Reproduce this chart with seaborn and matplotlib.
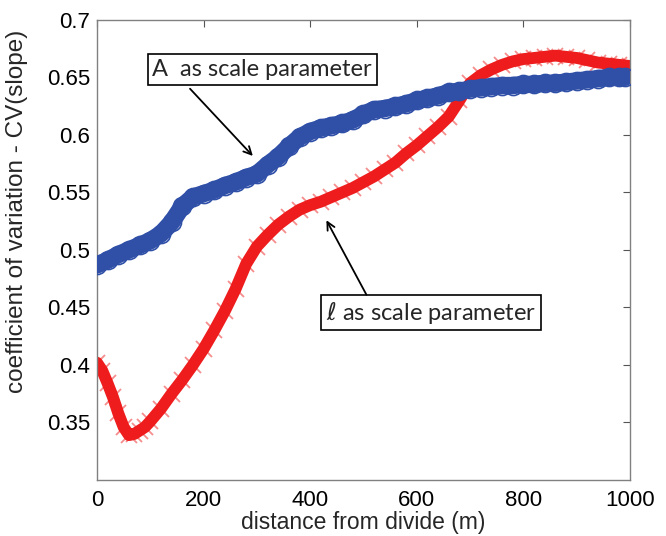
import numpy as np
import pandas as pd
import matplotlib
matplotlib.use("Agg")
import matplotlib.pyplot as plt
import seaborn as sns

# values
dist_A = [0, 20, 40, 60, 80, 100, 120, 140, 160, 180, 200, 220, 240, 260, 280,
          300, 320, 340, 360, 380, 400, 420, 440, 460, 480, 500, 520, 540, 560,
          580, 600, 620, 640, 660, 680, 700, 720, 740, 760, 780, 800, 820, 840,
          860, 880, 900, 920, 940, 960, 980, 990]
cv_A = [0.487, 0.491, 0.496, 0.500, 0.504, 0.508, 0.514, 0.524, 0.538, 0.546,
        0.549, 0.552, 0.556, 0.559, 0.563, 0.566, 0.574, 0.581, 0.590, 0.598,
        0.603, 0.606, 0.608, 0.610, 0.613, 0.618, 0.622, 0.623, 0.625, 0.627,
        0.630, 0.632, 0.634, 0.637, 0.638, 0.640, 0.641, 0.642, 0.643, 0.643,
        0.644, 0.644, 0.645, 0.645, 0.646, 0.647, 0.648, 0.649, 0.650, 0.650,
        0.650]

dist_l = [0, 10, 20, 30, 40, 50, 60, 70, 80, 90, 100, 120, 140, 160, 180, 200,
          220, 240, 260, 280, 300, 320, 340, 360, 380, 400, 420, 440, 460, 480,
          500, 520, 540, 560, 580, 600, 620, 640, 660, 680, 700, 720, 740, 760,
          780, 800, 820, 840, 860, 880, 900, 920, 940, 960, 980, 1000]
cv_l = [0.402, 0.395, 0.384, 0.372, 0.358, 0.346, 0.339, 0.340, 0.343, 0.346,
        0.351, 0.362, 0.375, 0.387, 0.400, 0.414, 0.430, 0.447, 0.466, 0.488,
        0.503, 0.513, 0.522, 0.529, 0.535, 0.539, 0.542, 0.546, 0.550, 0.554,
        0.559, 0.564, 0.570, 0.576, 0.584, 0.591, 0.599, 0.607, 0.616, 0.630,
        0.645, 0.652, 0.657, 0.661, 0.664, 0.666, 0.667, 0.668, 0.669, 0.668,
        0.667, 0.665, 0.663, 0.662, 0.661, 0.660]

x_ticks = [0, 200, 400, 600, 800, 1000]
y_ticks = [0.35, 0.4, 0.45, 0.5, 0.55, 0.6, 0.65, 0.7]
y_ticklabels = ["0.35", "0.4", "0.45", "0.5", "0.55", "0.6", "0.65", "0.7"]

df_A = pd.DataFrame({"dist": dist_A, "cv": cv_A})
df_l = pd.DataFrame({"dist": dist_l, "cv": cv_l})

sns.set_style("white")
plt.rcParams["font.family"] = ["Liberation Sans", "DejaVu Sans"]

blue = "#3050a8"
red = "#ee1c1c"

fig = plt.figure(figsize=(6.66, 5.36), dpi=100)
ax = fig.add_axes([0.1456, 0.1045, 0.8003, 0.8582])

# l as scale parameter (red crosses)
sns.lineplot(data=df_l, x="dist", y="cv", ax=ax, color=red, linewidth=8.5,
             zorder=2)
sns.lineplot(data=df_l, x="dist", y="cv", ax=ax, color=red, linestyle="none",
             marker="x", markersize=11, markeredgecolor=red, markeredgewidth=1.3,
             alpha=0.5, zorder=2)

# A as scale parameter (blue circles)
sns.lineplot(data=df_A, x="dist", y="cv", ax=ax, color=blue, linewidth=12.5,
             zorder=3)
sns.lineplot(data=df_A, x="dist", y="cv", ax=ax, color=blue, linestyle="none",
             marker="o", markersize=13, markerfacecolor="none",
             markeredgecolor=blue, markeredgewidth=1.2, zorder=3)

ax.set_xlim(0, 1000)
ax.set_ylim(0.3, 0.7)
ax.set_xticks(x_ticks)
ax.set_xticklabels([str(t) for t in x_ticks])
ax.set_yticks(y_ticks)
ax.set_yticklabels(y_ticklabels)

for s in ax.spines.values():
    s.set_color("#808080")
    s.set_linewidth(1.0)
ax.tick_params(direction="in", length=5, width=0.8, color="#555555",
               labelsize=16, top=True, right=True, labelcolor="black")
ax.tick_params(axis="x", pad=7)
ax.tick_params(axis="y", pad=5)

ax.set_xlabel("distance from divide (m)", fontsize=16.5)
ax.set_ylabel("coefficient of variation - CV(slope)", fontsize=17.5)
ax.xaxis.set_label_coords(0.5, -0.068)
ax.yaxis.set_label_coords(-0.13, 0.585)

# annotations
ax.text(310, 0.657, "A  as scale parameter", fontsize=17, family=["Lato", "DejaVu Sans"],
        ha="center", va="center", zorder=5,
        bbox=dict(boxstyle="square,pad=0.2", fc="white", ec="black", lw=1.2))
ax.annotate("", xy=(296, 0.580), xytext=(171, 0.642),
            arrowprops=dict(arrowstyle="->", color="black", lw=1.3,
                            mutation_scale=14), zorder=5)

ax.text(627, 0.4455, r"$\ell$ as scale parameter", fontsize=17,
        family=["Lato", "DejaVu Sans"], ha="center", va="center", zorder=5,
        bbox=dict(boxstyle="square,pad=0.2", fc="white", ec="black", lw=1.2))
ax.annotate("", xy=(428, 0.528), xytext=(508, 0.459),
            arrowprops=dict(arrowstyle="->", color="black", lw=1.3,
                            mutation_scale=14), zorder=5)

fig.savefig("out.png", dpi=100)
